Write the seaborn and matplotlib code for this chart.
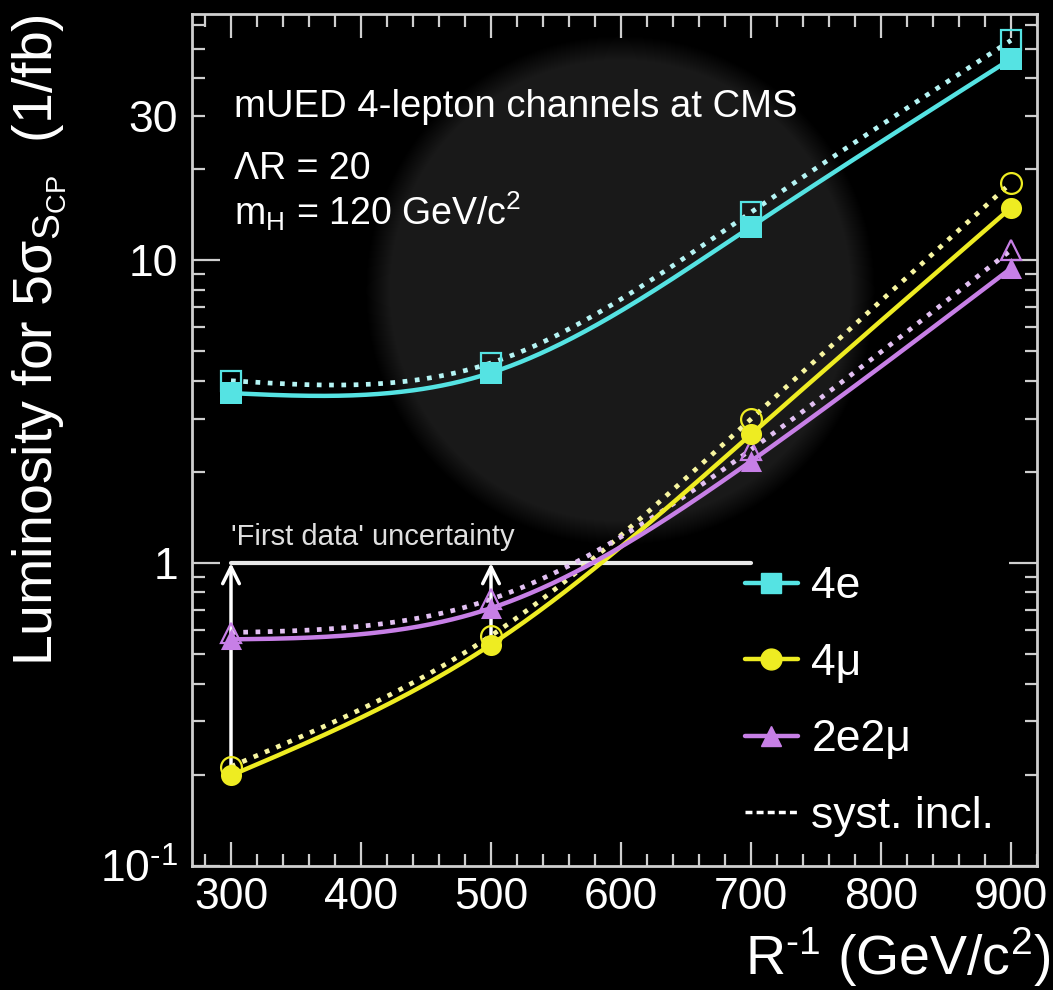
import numpy as np
import pandas as pd
import matplotlib
matplotlib.use("Agg")
import matplotlib.pyplot as plt
import seaborn as sns
from matplotlib.lines import Line2D
from matplotlib.ticker import FixedLocator, FuncFormatter, LogLocator, MultipleLocator

# ---------------- data ----------------
r_inv = [300, 500, 700, 900]
lumi_4e = [3.64, 4.25, 12.9, 46.2]
lumi_4e_syst = [4.0, 4.58, 14.4, 53.2]
lumi_4mu = [0.199, 0.538, 2.66, 14.9]
lumi_4mu_syst = [0.213, 0.576, 2.99, 18.0]
lumi_2e2mu = [0.56, 0.71, 2.17, 9.4]
lumi_2e2mu_syst = [0.59, 0.76, 2.37, 10.8]
channel_labels = ["4e", "4μ", "2e2μ"]
syst_label = "syst. incl."
first_data_lumi = 1.0
first_data_range = [300, 700]
arrow_x = [300, 500]
arrow_base = [0.199, 0.538]
y_major = [0.1, 1, 10]
y_major_labels = ["10$^{\\text{-1}}$", "1", "10"]
y_minor_labelled = [30]

colors = ["#55e3e3", "#eeec22", "#c77fe6"]
syst_colors = ["#b5f4f4", "#f7f5a0", "#e2c0f2"]
markers = ["s", "o", "^"]

sns.set_theme(style="ticks")
plt.rcParams["font.family"] = ["Liberation Sans", "DejaVu Sans"]
plt.rcParams["mathtext.fontset"] = "custom"
plt.rcParams["mathtext.rm"] = "Liberation Sans"
plt.rcParams["mathtext.it"] = "Liberation Sans:italic"
plt.rcParams["mathtext.default"] = "regular"


def natural_spline(x, y, xs):
    x = np.asarray(x, float)
    y = np.asarray(y, float)
    n = len(x)
    h = np.diff(x)
    A = np.zeros((n, n))
    b = np.zeros(n)
    A[0, 0] = A[-1, -1] = 1
    for i in range(1, n - 1):
        A[i, i - 1] = h[i - 1]
        A[i, i] = 2 * (h[i - 1] + h[i])
        A[i, i + 1] = h[i]
        b[i] = 6 * ((y[i + 1] - y[i]) / h[i] - (y[i] - y[i - 1]) / h[i - 1])
    M = np.linalg.solve(A, b)
    idx = np.clip(np.searchsorted(x, xs) - 1, 0, n - 2)
    x0, x1 = x[idx], x[idx + 1]
    hh = x1 - x0
    t0, t1 = xs - x0, x1 - xs
    return ((M[idx] * t1 ** 3 + M[idx + 1] * t0 ** 3) / (6 * hh)
            + (y[idx] / hh - M[idx] * hh / 6) * t1
            + (y[idx + 1] / hh - M[idx + 1] * hh / 6) * t0)


fig = plt.figure(figsize=(10.53, 9.9), dpi=100, facecolor="black")

# faint background disk (decoration)
bg = fig.add_axes([0, 0, 1, 1], zorder=-5)
bg.axis("off")
yy, xx = np.mgrid[0:990, 0:1053]
rr = np.hypot(xx - 620, yy - 290)
img = 0.1 * np.clip((255 - rr) / 25, 0, 1)
bg.imshow(img, cmap="gray", vmin=0, vmax=1, extent=(0, 1053, 990, 0), aspect="auto")
bg.set_xlim(0, 1053)
bg.set_ylim(990, 0)

ax = fig.add_axes([192 / 1053, 1 - 866 / 990, 845 / 1053, 852 / 990])
ax.set_facecolor("none")
ax.set_yscale("log")

series = [(lumi_4e, lumi_4e_syst), (lumi_4mu, lumi_4mu_syst), (lumi_2e2mu, lumi_2e2mu_syst)]
xs = np.linspace(r_inv[0], r_inv[-1], 400)
for (vals, syst), c, sc, m in zip(series, colors, syst_colors, markers):
    ys_syst = 10 ** natural_spline(r_inv, np.log10(syst), xs)
    ys = 10 ** natural_spline(r_inv, np.log10(vals), xs)
    sns.lineplot(x=xs, y=ys_syst, ax=ax, color=sc, lw=3.4, estimator=None, sort=False,
                 linestyle=(0, (1, 1.6)), zorder=3)
    ax.plot(r_inv, syst, linestyle="none", marker=m, ms=15, mfc="none", mec=c, mew=1.6, zorder=3)
    sns.lineplot(x=xs, y=ys, ax=ax, color=c, lw=3.2, estimator=None, sort=False, zorder=4)
    sns.scatterplot(x=r_inv, y=vals, ax=ax, color=c, marker=m, s=230, edgecolor=c, linewidth=0, zorder=5)

# 'First data' uncertainty line and arrows
ax.plot(first_data_range, [first_data_lumi, first_data_lumi], color="#e8e8e8", lw=3, zorder=2)
for xa, yb in zip(arrow_x, arrow_base):
    ax.annotate("", xy=(xa, first_data_lumi), xytext=(xa, yb),
                arrowprops=dict(arrowstyle="->,head_length=1.0,head_width=0.5", color="white",
                                lw=2.5, shrinkA=0, shrinkB=0), zorder=2)
ax.text(first_data_range[0], 1.15, "'First data' uncertainty", color="#e0e0e0", fontsize=21,
        ha="left", va="baseline")

ax.text(0.05, 0.879, "mUED 4-lepton channels at CMS", transform=ax.transAxes, color="white",
        fontsize=27.5, ha="left", va="baseline")
ax.text(0.05, 0.806, "ΛR = 20", transform=ax.transAxes, color="white", fontsize=27,
        ha="left", va="baseline")
ax.text(0.05, 0.753, "m$_{H}$ = 120 GeV/c$^{2}$", transform=ax.transAxes, color="white",
        fontsize=27, ha="left", va="baseline")

ax.set_xlim(270, 920)
ax.set_ylim(0.1, 65)
ax.xaxis.set_major_locator(MultipleLocator(100))
ax.xaxis.set_minor_locator(MultipleLocator(20))
ax.yaxis.set_major_locator(FixedLocator(y_major))
ax.yaxis.set_major_formatter(FuncFormatter(
    lambda v, p: y_major_labels[int(np.argmin([abs(np.log10(v / t)) for t in y_major]))]))
ax.yaxis.set_minor_locator(LogLocator(base=10, subs=np.arange(2, 10)))
ax.yaxis.set_minor_formatter(FuncFormatter(
    lambda v, p: ("%d" % round(v)) if any(abs(v - t) < 1e-6 * t for t in y_minor_labelled) else ""))

tick_col = "#cfcfcf"
ax.tick_params(which="both", direction="in", top=True, right=True, color=tick_col,
               labelcolor="white", labelsize=32, width=1.6)
ax.tick_params(axis="x", which="major", length=17, pad=8)
ax.tick_params(axis="x", which="minor", length=9)
ax.tick_params(axis="y", which="major", length=20, pad=10)
ax.tick_params(axis="y", which="minor", length=9, pad=10, labelsize=32)
for s in ax.spines.values():
    s.set_color(tick_col)
    s.set_linewidth(2)
ax.set_xlabel("")
ax.set_ylabel("")

fig.text(1050 / 1053, 1 - 975 / 990, "R$^{\\text{-1}}$ (GeV/c$^{2}$)", color="white", fontsize=40,
         ha="right", va="baseline")
fig.text(40 / 1053, 1 - 340 / 990, "Luminosity for 5σ$_{S_{CP}}$  (1/fb)", color="white",
         fontsize=40, rotation=90, ha="center", va="center")

handles = [Line2D([], [], color=c, lw=3.2, marker=m, ms=15, mfc=c, mec=c)
           for c, m in zip(colors, markers)]
handles.append(Line2D([], [], color="white", lw=2.5, linestyle=(0, (2, 1.2))))
ax.legend(handles, channel_labels + [syst_label], loc="upper left",
          bbox_to_anchor=(0.654, 0.352), frameon=False, fontsize=32, handlelength=1.2,
          handletextpad=0.3, labelspacing=0.8, borderpad=0, borderaxespad=0,
          labelcolor="white")

fig.savefig("out.png", dpi=100, facecolor="black")
